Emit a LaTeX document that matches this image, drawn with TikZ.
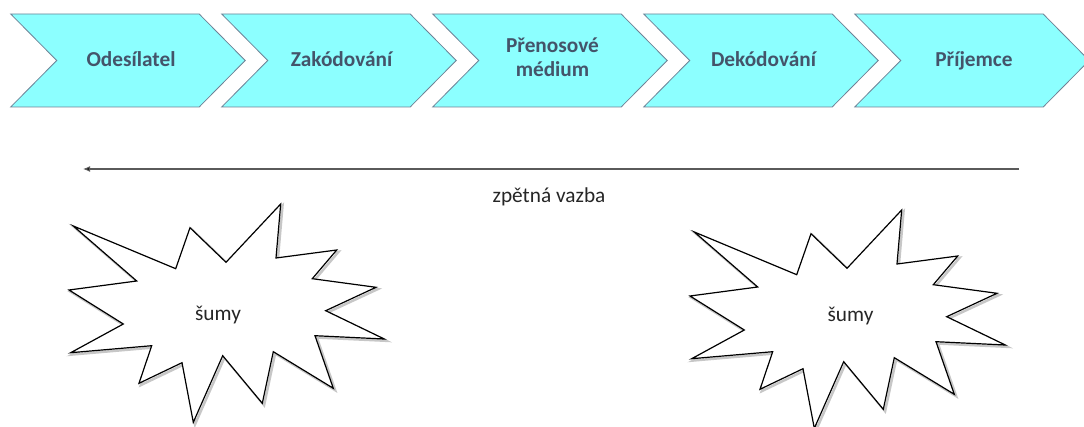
\documentclass[tikz,border=0pt]{standalone}
\usepackage{fontspec}
\setmainfont{Carlito}
\usetikzlibrary{arrows.meta}
\definecolor{chevfill}{RGB}{140,255,255}
\definecolor{chevline}{RGB}{110,130,150}
\definecolor{chevtext}{RGB}{68,84,106}
\definecolor{arrline}{RGB}{90,90,90}
\tikzset{
  chev/.style={fill=chevfill, draw=chevline, line width=0.8pt, line join=miter},
  chevlabel/.style={text=chevtext, font=\fontsize{21.3}{23.5}\selectfont\bfseries, align=center, inner sep=0pt, anchor=base},
  plain/.style={text=black!85, font=\fontsize{21.3}{24}\selectfont, inner sep=0pt, anchor=base},
  starline/.style={fill=white, draw=black, line width=1.2pt, line join=miter},
  starshadow/.style={draw=black, opacity=0.22, line width=2.5pt, line join=miter},
}
\newcommand{\chevpath}[1]{(#1,14) -- ++(188.5,0) -- ++(46,46.5) -- ++(-46,46.5) -- ++(-188.5,0) -- ++(46,-46.5) -- cycle}
\newcommand{\starpath}{(73.3,226) -- (175.7,268.7) -- (190,227.7) -- (226,262.3) -- (280.7,204) -- (276,258) -- (336.7,250) -- (312.3,278.7) -- (376,287.3) -- (325.7,310.7) -- (384.3,339) -- (315,335.7) -- (333.3,388.3) -- (273.3,351.7) -- (262.3,403.3) -- (222.7,355.7) -- (193.3,422.3) -- (182,362.7) -- (139,383.3) -- (151.7,345.7) -- (70.7,352.7) -- (123.3,324) -- (69,290) -- (136.7,281) -- cycle}
\begin{document}
\begin{tikzpicture}[x=1pt,y=-1pt]
\useasboundingbox (0,0) rectangle (1084,427);
% chevrons
\foreach \L in {10.7,221.7,432.7,643.7,854.7}{
  \draw[chev] \chevpath{\L};
}
\node[chevlabel] (sender) at (131,67) {Odesílatel};
\node[chevlabel] (encode) at (341.5,67) {Zakódování};
\node[chevlabel] (medium) at (552.5,76.5) {Přenosové\\médium};
\node[chevlabel] (decode) at (763.5,67) {Dekódování};
\node[chevlabel] (receiver) at (974,67) {Příjemce};
% feedback arrow
\coordinate (fbstart) at (1019,169);
\coordinate (fbend) at (83,169);
\draw[arrline, line width=1.1pt, -{Latex[length=7pt,width=6pt,fill=black]}] (fbstart) -- (fbend);
\node[plain] (feedback) at (549,202.5) {zpětná vazba};
% stars
\begin{scope}[shift={(1.8,1.8)}]
  \draw[starshadow] \starpath;
\end{scope}
\draw[starline] \starpath;
\begin{scope}[shift={(622.8,7.8)}]
  \draw[starshadow] \starpath;
\end{scope}
\begin{scope}[shift={(621,6)}]
  \draw[starline] \starpath;
\end{scope}
\node[plain] (noise1) at (218,321) {šumy};
\node[plain] (noise2) at (850.5,321.5) {šumy};
\end{tikzpicture}
\end{document}
